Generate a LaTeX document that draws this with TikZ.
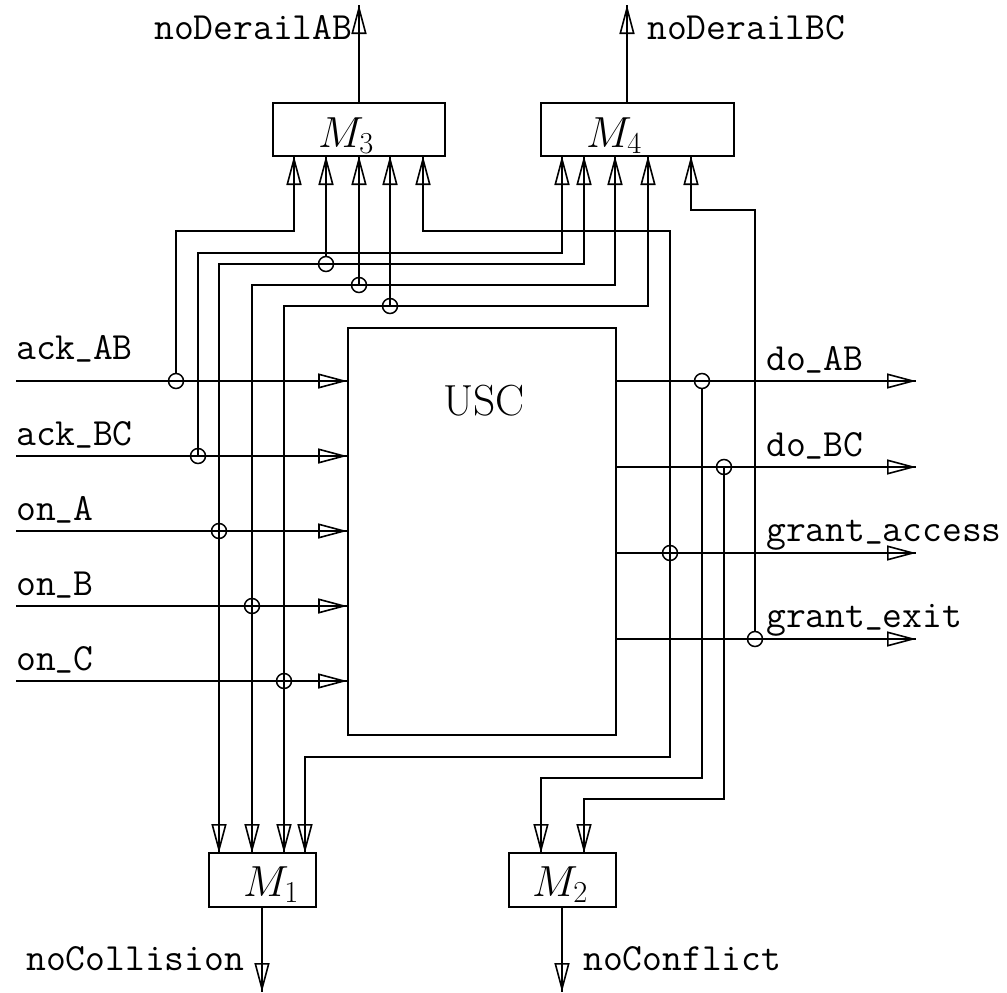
\documentclass[tikz,border=0pt]{standalone}
\usepackage{fix-cm}
\usepackage{graphicx}
\usetikzlibrary{arrows.meta}
\newcommand{\us}{\scalebox{0.88}[1]{\raisebox{0.12em}{\_}}}
\tikzset{
  x=1pt,y=-1pt,
  wire/.style={draw=black,line width=1.6pt,line join=miter},
  tipped/.style={postaction={draw,-{Triangle[open,length=29pt,width=15pt,line width=1.6pt]}}},
  box/.style={draw=black,line width=1.7pt,rectangle,inner sep=0pt},
  tap/.style={draw=black,line width=1.5pt,circle,minimum size=15pt,inner sep=0pt},
  sig/.style={anchor=base west,inner sep=0pt,font=\fontsize{38.5}{38.5}\selectfont\ttfamily},
  mlabel/.style={anchor=base west,inner sep=0pt,font=\fontsize{43.5}{43.5}\selectfont},
}
\begin{document}
\begin{tikzpicture}
\useasboundingbox (0,0) rectangle (1007,993);
% boxes
\node[box,minimum width=268pt,minimum height=407pt] (USC) at (482,531.5) {};
\node[box,minimum width=172pt,minimum height=53pt] (M3) at (359,129.5) {};
\node[box,minimum width=193pt,minimum height=53pt] (M4) at (637.5,129.5) {};
\node[box,minimum width=107pt,minimum height=54pt] (M1) at (262.5,880) {};
\node[box,minimum width=107pt,minimum height=54pt] (M2) at (562.5,880) {};
% box labels
\node[mlabel] (tUSC) at (443,415) {USC};
\node[mlabel] (tM3) at (318,147) {$M_3$};
\node[mlabel] (tM4) at (586,147) {$M_4$};
\node[mlabel] (tM1) at (243,896) {$M_1$};
\node[mlabel] (tM2) at (532,896) {$M_2$};
% taps
\node[tap] (tAB) at (176,381) {};
\node[tap] (tBC) at (198,456) {};
\node[tap] (tA) at (219,531) {};
\node[tap] (tB) at (252,606) {};
\node[tap] (tC) at (284,681) {};
\node[tap] (tDA) at (702,381) {};
\node[tap] (tDB) at (724,467) {};
\node[tap] (tGA) at (670,553) {};
\node[tap] (tGE) at (755,639) {};
\node[tap] (t3a) at (326,264) {};
\node[tap] (t3b) at (359,285) {};
\node[tap] (t3c) at (390,306) {};
% free ends
\coordinate (iAB) at (16,381);
\coordinate (iBC) at (16,456);
\coordinate (iA) at (16,531);
\coordinate (iB) at (16,606);
\coordinate (iC) at (16,681);
\coordinate (oDA) at (916,381);
\coordinate (oDB) at (916,467);
\coordinate (oGA) at (916,553);
\coordinate (oGE) at (916,639);
\coordinate (o3) at (359,5);
\coordinate (o4) at (627,5);
\coordinate (o1) at (262,992);
\coordinate (o2) at (562,992);
% inputs
\foreach \a in {iAB,iBC,iA,iB,iC}
  \path[wire,tipped] (\a) -- (\a -| USC.west);
% outputs
\path[wire,tipped] (tDA.center -| USC.east) -- (oDA);
\path[wire,tipped] (tDB.center -| USC.east) -- (oDB);
\path[wire,tipped] (tGA.center -| USC.east) -- (oGA);
\path[wire,tipped] (tGE.center -| USC.east) -- (oGE);
\path[wire,tipped] (o3 |- M3.north) -- (o3);
\path[wire,tipped] (o4 |- M4.north) -- (o4);
\path[wire,tipped] (o1 |- M1.south) -- (o1);
\path[wire,tipped] (o2 |- M2.south) -- (o2);
% to M3 / M4
\path[wire,tipped] (tAB.north) |- (294,231) -- (294,156);
\path[wire,tipped] (tBC.center) -- (198,253) -- (562,253) -- (562,156);
\path[wire,tipped] (t3a.north) -- (326,156);
\path[wire,tipped] (t3b.center) -- (359,156);
\path[wire,tipped] (t3c.center) -- (390,156);
\path[wire,tipped] (tA.center) -- (219,264) -- (584,264) -- (584,156);
\path[wire,tipped] (tB.center) -- (252,285) -- (615,285) -- (615,156);
\path[wire,tipped] (tC.center) -- (284,306) -- (648,306) -- (648,156);
\path[wire,tipped] (tGA.center) -- (670,231) -- (423,231) -- (423,156);
\path[wire,tipped] (tGE.north) -- (755,210) -- (691,210) -- (691,156);
% to M1 / M2
\path[wire,tipped] (tA.center) -- (219,853);
\path[wire,tipped] (tB.center) -- (252,853);
\path[wire,tipped] (tC.center) -- (284,853);
\path[wire,tipped] (tGA.center) -- (670,757) -- (305,757) -- (305,853);
\path[wire,tipped] (tDA.south) -- (702,778) -- (541,778) -- (541,853);
\path[wire,tipped] (tDB.center) -- (724,799) -- (584,799) -- (584,853);
% signal labels
\node[sig] (lAB) at (16,359) {ack\us AB};
\node[sig] (lBC) at (16,445) {ack\us BC};
\node[sig] (lA) at (16,520) {on\us A};
\node[sig] (lB) at (16,595) {on\us B};
\node[sig] (lC) at (16,670) {on\us C};
\node[sig] (lDA) at (766,370) {do\us AB};
\node[sig] (lDB) at (766,456) {do\us BC};
\node[sig] (lGA) at (766,541) {grant\us access};
\node[sig] (lGE) at (766,627) {grant\us exit};
\node[sig] (lN3) at (154,39) {noDerailAB};
\node[sig] (lN4) at (647,39) {noDerailBC};
\node[sig] (lN1) at (26,970) {noCollision};
\node[sig] (lN2) at (583,970) {noConflict};
\end{tikzpicture}
\end{document}
